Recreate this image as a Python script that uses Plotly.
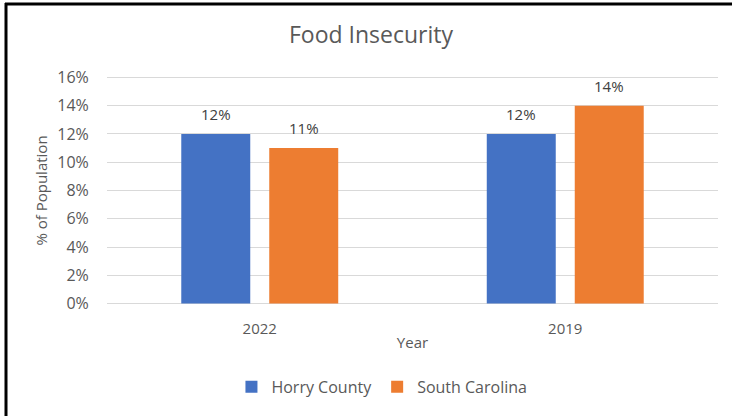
import plotly.graph_objects as go

# Food insecurity share of population by year
years = ["2022", "2019"]
horry_county = [0.12, 0.12]
south_carolina = [0.11, 0.14]
y_ticks = [0, 0.02, 0.04, 0.06, 0.08, 0.10, 0.12, 0.14, 0.16]

BLUE = "#4472C4"
ORANGE = "#ED7D31"
TEXT = "#595959"
FONT = "Open Sans, sans-serif"

W, H = 732, 416
ML, MR, MT, MB = 107, 14, 76, 108
PW, PH = W - ML - MR, H - MT - MB
Y_RANGE = [-0.001, 0.161]

fig = go.Figure()
fig.add_trace(go.Bar(name="Horry County", x=years, y=horry_county,
                     marker=dict(color=BLUE, line=dict(width=0))))
fig.add_trace(go.Bar(name="South Carolina", x=years, y=south_carolina,
                     marker=dict(color=ORANGE, line=dict(width=0))))

# value labels above each bar (x given as category index)
bargap, groupgap = 0.424, 0.216
slot = PW / len(years) * (1 - bargap) / 2
annotations = []
for series, offset in ((horry_county, -slot / 2), (south_carolina, slot / 2)):
    for i, v in enumerate(series):
        annotations.append(dict(x=i, y=v, xref="x", yref="y", text=f"{v:.0%}",
                                showarrow=False, xshift=offset, yshift=20,
                                font=dict(family=FONT, size=15, color="#404040")))

# chart frame (left and top edges)
def px_x(px):
    return (px - ML) / PW

def px_y(py):
    return (H - MB - py) / PH

shapes = [
    dict(type="line", xref="paper", yref="paper", x0=px_x(6), x1=px_x(6),
         y0=px_y(H + 5), y1=px_y(2), line=dict(color="black", width=3)),
    dict(type="line", xref="paper", yref="paper", x0=px_x(5), x1=px_x(W + 5),
         y0=px_y(3), y1=px_y(3), line=dict(color="black", width=3)),
]

fig.update_layout(
    width=W, height=H,
    margin=dict(l=ML, r=MR, t=MT, b=MB),
    paper_bgcolor="white", plot_bgcolor="white",
    barmode="group", bargap=bargap, bargroupgap=groupgap,
    font=dict(family=FONT, color=TEXT, size=15),
    title=dict(text="Food Insecurity", x=371 / W, xref="container", xanchor="center",
               y=1 - 35 / H, yanchor="middle",
               font=dict(family=FONT, size=23, color=TEXT)),
    xaxis=dict(type="category", range=[-0.5, len(years) - 0.5],
               title=dict(text="Year", standoff=0, font=dict(size=15, color=TEXT)),
               showgrid=False, showline=False, zeroline=False,
               ticks="outside", ticklen=10, tickcolor="rgba(0,0,0,0)",
               tickfont=dict(size=15, color=TEXT)),
    yaxis=dict(title=dict(text="% of Population", standoff=6,
                          font=dict(size=15, color=TEXT)),
               range=Y_RANGE, tickvals=y_ticks, tickformat=".0%",
               showgrid=True, gridcolor="#D9D9D9", gridwidth=1,
               zeroline=False, showline=False,
               ticks="outside", ticklen=14, tickcolor="rgba(0,0,0,0)",
               tickfont=dict(size=16, color=TEXT)),
    legend=dict(orientation="h", x=0.45, xanchor="center", y=px_y(391),
                yanchor="middle", font=dict(size=16, color=TEXT),
                itemwidth=30, traceorder="normal"),
    annotations=annotations,
    shapes=shapes,
)

fig.write_html("out.html")
